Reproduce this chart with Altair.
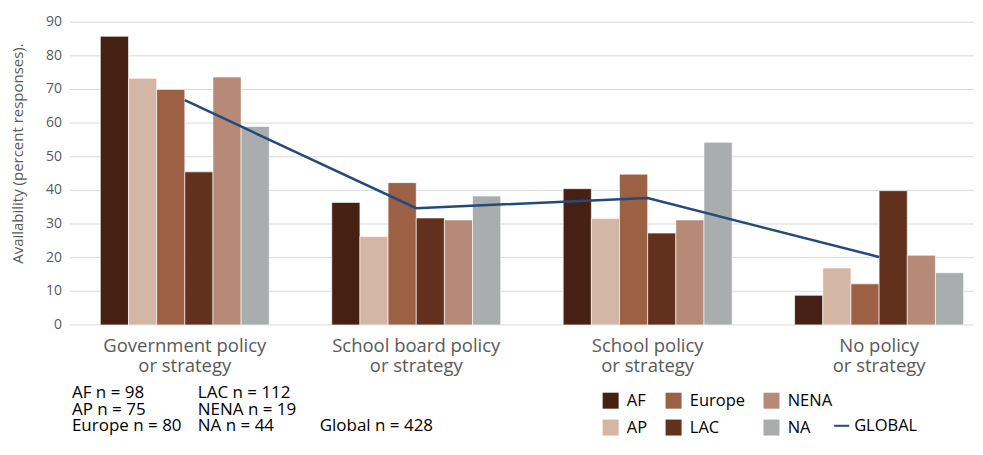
import altair as alt
import pandas as pd

categories = ["Government policy|or strategy", "School board policy|or strategy",
              "School policy|or strategy", "No policy|or strategy"]
regions = ["AF", "AP", "Europe", "LAC", "NENA", "NA"]
af = [85.8, 36.4, 40.5, 8.8]
ap = [73.3, 26.3, 31.6, 16.9]
europe = [70.0, 42.3, 44.8, 12.2]
lac = [45.5, 31.8, 27.3, 39.9]
nena = [73.7, 31.2, 31.2, 20.7]
na = [59.0, 38.3, 54.3, 15.5]
global_vals = [66.8, 34.7, 37.7, 20.2]
y_ticks = [0, 10, 20, 30, 40, 50, 60, 70, 80, 90]

region_colors = {"AF": "#452013", "AP": "#D3B6A4", "Europe": "#9C6044",
                 "LAC": "#62311D", "NENA": "#B68A76", "NA": "#AAADAD"}

n_regions = ["AF", "AP", "Europe", "LAC", "NENA ", "NA"]
n_values = [98, 75, 80, 112, 19, 44]
global_n = 428

series = {"AF": af, "AP": ap, "Europe": europe, "LAC": lac, "NENA": nena, "NA": na}
rows = []
for r in regions:
    for c, v in zip(categories, series[r]):
        rows.append({"category": c, "region": r, "value": v})
df = pd.DataFrame(rows)
gdf = pd.DataFrame({"category": categories, "value": global_vals, "series": ["GLOBAL"] * 4})
tdf = pd.DataFrame({"tick": y_ticks})

FONT = "Open Sans"
W, H = 885, 303

x_enc = alt.X("category:N", sort=categories,
              scale=alt.Scale(paddingInner=0.27, paddingOuter=0.045),
              axis=alt.Axis(title=None, labelAngle=0, ticks=False, domain=False,
                            labelExpr="split(datum.label, '|')", labelFontSize=18.5,
                            labelColor="#595959", labelPadding=12, labelLineHeight=20,
                            labelFont=FONT))
y_scale = alt.Scale(domain=[0, 90], nice=False, zero=True)
y_enc = alt.Y("value:Q", scale=y_scale,
              axis=alt.Axis(title="Availability (percent responses).", labels=False,
                            grid=False, domain=False, ticks=False,
                            titleFontSize=15, titleColor="#595959", titleFontWeight="normal",
                            titlePadding=64.5, titleFont=FONT, titleY=131))

grid = alt.Chart(tdf).mark_rule(color="#D9D9D9", strokeWidth=1).encode(
    y=alt.Y("tick:Q", scale=y_scale), x=alt.value(-20), x2=alt.value(W))
tick_labels = alt.Chart(tdf).mark_text(align="right", baseline="middle", fontSize=14,
                                       font=FONT, color="#595959").encode(
    y=alt.Y("tick:Q", scale=y_scale), x=alt.value(-28), text=alt.Text("tick:Q"))

bars = alt.Chart(df).mark_bar(stroke="white", strokeWidth=0.6).encode(
    x=x_enc,
    xOffset=alt.XOffset("region:N", sort=regions, scale=alt.Scale(paddingInner=0, paddingOuter=0)),
    y=y_enc,
    color=alt.Color("region:N",
                    scale=alt.Scale(domain=regions, range=[region_colors[r] for r in regions]),
                    legend=alt.Legend(title=None, orient="none", legendX=513, legendY=370.5, columns=3,
                                      padding=0, symbolType="square", symbolSize=256,
                                      symbolStrokeWidth=0, labelFontSize=16.5, labelColor="#000000",
                                      labelFont=FONT, labelOffset=8, rowPadding=10, columnPadding=18)),
)

line = alt.Chart(gdf).mark_line(strokeWidth=2.5).encode(
    x=x_enc,
    y=y_enc,
    stroke=alt.Stroke("series:N", scale=alt.Scale(range=["#244A7C"]),
                      legend=alt.Legend(title=None, orient="none", legendX=744, legendY=395.5,
                                        padding=0, symbolType="stroke", symbolSize=225,
                                        symbolStrokeWidth=2, labelFontSize=16.5, labelColor="#000000",
                                        labelFont=FONT, labelOffset=4)),
)

one = pd.DataFrame({"a": [0]})
txt_style = dict(align="left", baseline="alphabetic", fontSize=17, font=FONT, color="#000000")
row_y = [376.5, 392.8, 409.1]
col_x = [-18, 108, 230]
texts = []
for i, (r, v) in enumerate(zip(n_regions, n_values)):
    texts.append(alt.Chart(one).mark_text(**txt_style).encode(
        x=alt.value(col_x[i // 3]), y=alt.value(row_y[i % 3]), text=alt.value(f"{r} n = {v}")))
texts.append(alt.Chart(one).mark_text(**txt_style).encode(
    x=alt.value(col_x[2]), y=alt.value(row_y[2]), text=alt.value(f"Global n = {global_n}")))

chart = alt.layer(grid, tick_labels, bars, line, *texts).resolve_scale(color="independent").properties(
    width=W, height=H,
    padding={"left": 2, "top": 7, "right": 0, "bottom": 0},
).configure_view(stroke=None)

chart.save("out.html", embed_options={"renderer": "svg", "actions": False})
